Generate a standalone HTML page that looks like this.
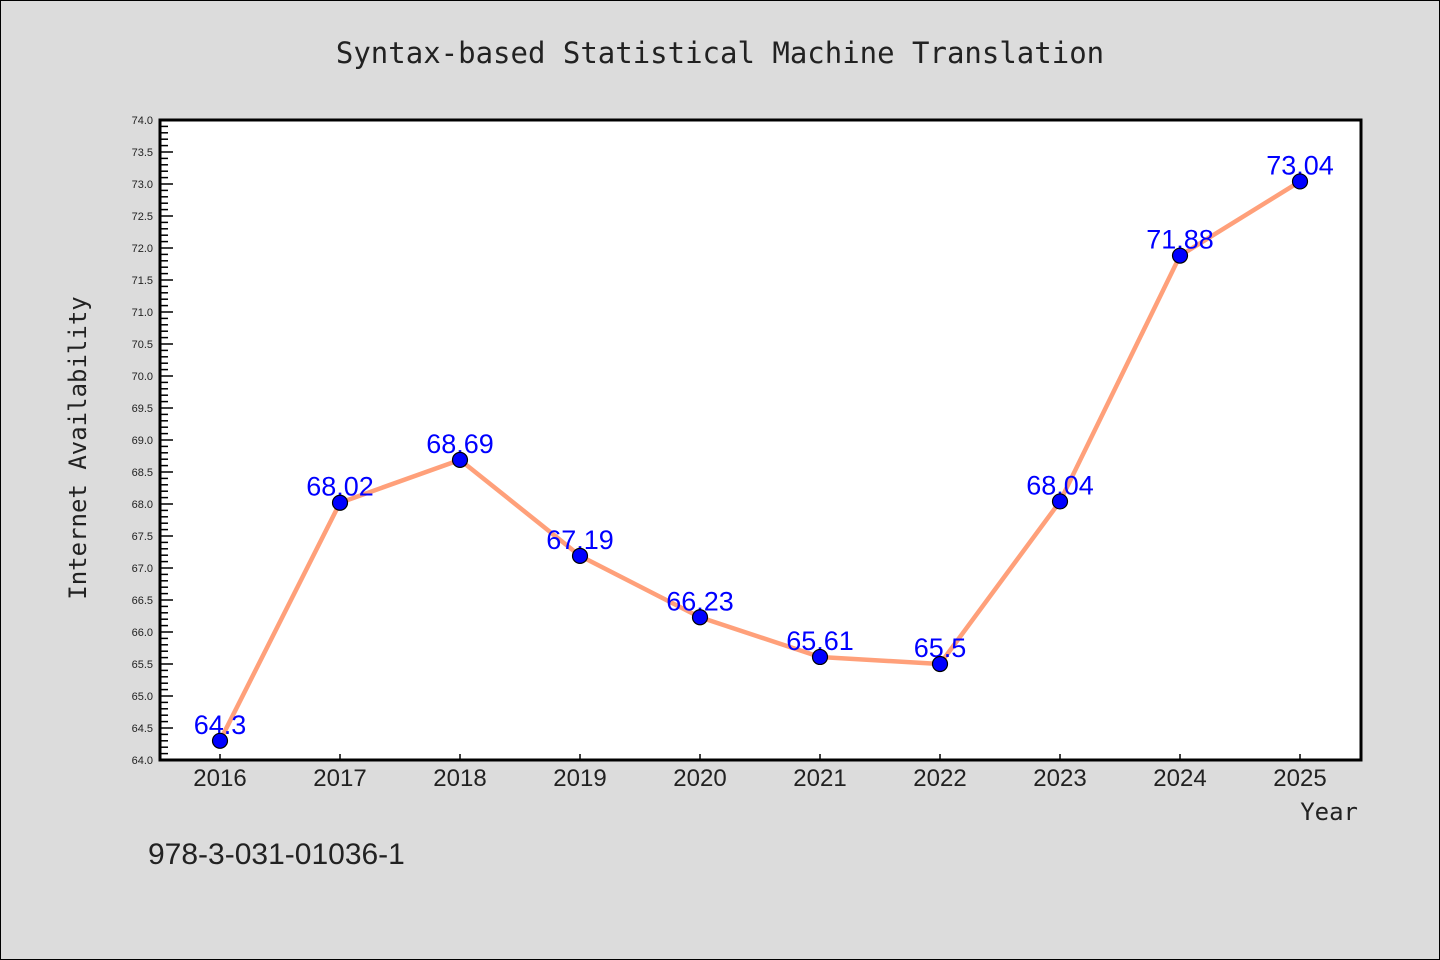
<!DOCTYPE html>
<html><head><meta charset="utf-8"><style>
body{margin:0;background:#dcdcdc;}
svg{display:block;font-family:"Liberation Sans","DejaVu Sans",sans-serif;}
</style></head><body>
<svg id="c" width="1440" height="960">
<rect x="0.5" y="0.5" width="1439" height="959" fill="#dcdcdc" stroke="#000"/>
<text x="720" y="63" text-anchor="middle" font-size="29" font-family="'DejaVu Sans Mono','Liberation Mono',monospace" fill="#222">Syntax-based Statistical Machine Translation</text>
<rect x="160" y="120" width="1201" height="640" fill="#fff"/>
<g id="ticks"></g>
<g id="series"></g>
<rect x="160" y="120" width="1201" height="640" fill="none" stroke="#000" stroke-width="3"/>
<text x="86" y="448" text-anchor="middle" font-size="24" font-family="'DejaVu Sans Mono','Liberation Mono',monospace" fill="#222" transform="rotate(-90 86 448)">Internet Availability</text>
<text x="1358" y="820" text-anchor="end" font-size="24" font-family="'DejaVu Sans Mono','Liberation Mono',monospace" fill="#222">Year</text>
<text x="148" y="864" font-size="30" fill="#222">978-3-031-01036-1</text>
</svg>
<script>
const years=["2016","2017","2018","2019","2020","2021","2022","2023","2024","2025"];
const values=[64.3,68.02,68.69,67.19,66.23,65.61,65.5,68.04,71.88,73.04];
const labels=["64.3","68.02","68.69","67.19","66.23","65.61","65.5","68.04","71.88","73.04"];
const yMin=64,yMax=74;
const NS="http://www.w3.org/2000/svg";
const X=i=>220+i*120;
const Y=v=>760-(v-yMin)/(yMax-yMin)*640;
function mk(t,a,p){const e=document.createElementNS(NS,t);for(const k in a)e.setAttribute(k,a[k]);p.appendChild(e);return e;}
const tg=document.getElementById('ticks');
for(let k=0;k<=100;k++){const v=yMin+k*0.1,y=Y(v),major=k%5==0;
const l=mk('line',{x1:160,x2:160+(major?13:8),y1:y,y2:y,stroke:'#000','stroke-width':1.5},tg);


if(major){const t=mk('text',{x:153,y:y+4,'text-anchor':'end','font-size':11,fill:'#222'},tg);t.textContent=v.toFixed(1);

}}
years.forEach((yr,i)=>{const x=X(i);
const l=mk('line',{x1:x,x2:x,y1:760,y2:754,stroke:'#000','stroke-width':1.5},tg);


const t=mk('text',{x:x,y:786,'text-anchor':'middle','font-size':24,fill:'#222'},tg);t.textContent=yr;

});
const sg=document.getElementById('series');
const pl=mk('polyline',{points:values.map((v,i)=>X(i)+','+Y(v)).join(' '),fill:'none',stroke:'#ffa07a','stroke-width':4.5,'stroke-linejoin':'round'},sg);


values.forEach((v,i)=>{
const t=mk('text',{x:X(i),y:Y(v)-7,'text-anchor':'middle','font-size':27,fill:'#0000ff'},sg);t.textContent=labels[i];

});
values.forEach((v,i)=>{
const c=mk('circle',{cx:X(i),cy:Y(v),r:7.5,fill:'#0000ff',stroke:'#000','stroke-width':1.2},sg);

});
</script>
</body></html>
